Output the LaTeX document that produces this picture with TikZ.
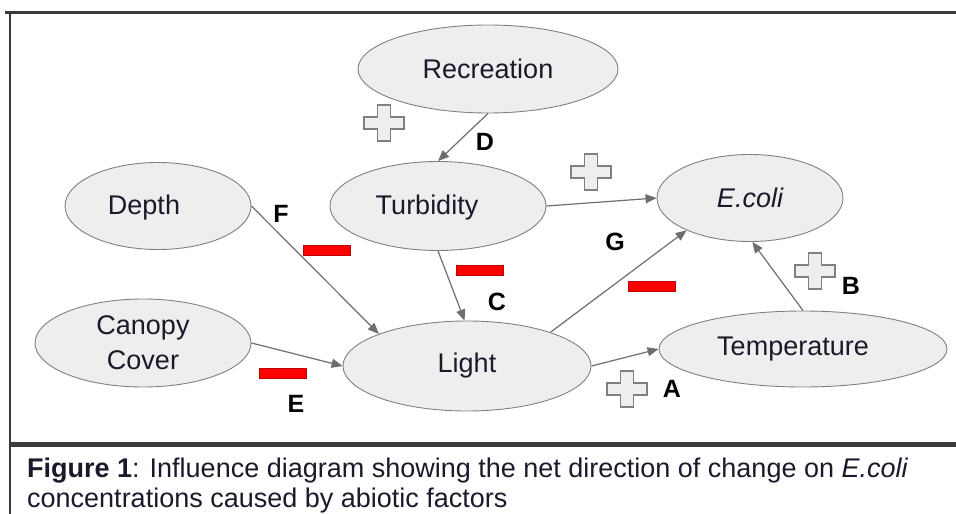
\documentclass[tikz,border=0pt]{standalone}
\usepackage{fontspec}
\setmainfont{Liberation Sans}
\usetikzlibrary{shapes.geometric,arrows.meta}
\definecolor{nodefill}{HTML}{EEEEEE}
\definecolor{nodeline}{HTML}{808080}
\definecolor{arrowc}{HTML}{6E6E6E}
\definecolor{framec}{HTML}{3A3A3A}
\definecolor{textc}{HTML}{1A1A2A}
\tikzset{
  ell/.style={ellipse, draw=nodeline, fill=nodefill, line width=0.9pt, inner sep=0pt,
    font=\fontsize{27}{35}\selectfont, text=textc, align=center},
  elltext/.style={font=\fontsize{27}{35}\selectfont, text=textc},
  conn/.style={draw=arrowc, line width=1.2pt, -{Triangle[length=11pt,width=9pt]}},
  lbl/.style={font=\fontsize{25}{25}\selectfont\bfseries, text=black, inner sep=0pt},
  minusbar/.style={rectangle, fill=red, draw=red!75!black, line width=0.5pt,
    minimum width=47pt, minimum height=10pt, inner sep=0pt},
  plussign/.pic={\draw[nodeline, fill=nodefill, line width=1.2pt]
    (-6.5,-18)--(6.5,-18)--(6.5,-6)--(20,-6)--(20,6)--(6.5,6)--(6.5,18)--(-6.5,18)
    --(-6.5,6)--(-20,6)--(-20,-6)--(-6.5,-6)--cycle;},
  captxt/.style={font=\fontsize{27}{30}\selectfont, text=textc, inner sep=0pt, anchor=base west}
}
\begin{document}
\begin{tikzpicture}[x=1pt,y=-1pt]
\useasboundingbox (0,0) rectangle (956,514);
% frame
\draw[framec, line width=3pt] (5,12) -- (956,12);
\draw[framec, line width=2.5pt] (10,12) -- (10,514);
\draw[framec, line width=5pt] (10,444) -- (956,444);

% nodes
\node[ell, minimum width=260pt, minimum height=88pt] (rec) at (488,69) {Recreation};
\node[ell, minimum width=186pt, minimum height=87pt, label={[xshift=-14pt, yshift=-2pt, elltext]center:Depth}] (dep) at (158,206) {};
\node[ell, minimum width=216pt, minimum height=89pt, label={[xshift=-11pt, yshift=-2pt, elltext]center:Turbidity}] (tur) at (438,206) {};
\node[ell, minimum width=186pt, minimum height=87pt] (eco) at (750,198) {\itshape E.coli};
\node[ell, minimum width=216pt, minimum height=88pt] (can) at (143,343) {Canopy\\Cover};
\node[ell, minimum width=248pt, minimum height=90pt] (lig) at (467,366) {Light};
\node[ell, minimum width=288pt, minimum height=76pt, label={[xshift=-10pt, elltext]center:Temperature}] (tem) at (803,349) {};

% connectors
\draw[conn] (rec.south) -- (tur.north);
\draw[conn] (tur.east) -- (eco.west);
\draw[conn] (tur.south) -- (lig.93);
\draw[conn] (dep.east) -- (lig.160);
\draw[conn] (can.east) -- (lig.west);
\draw[conn] (lig.22) -- (eco.207);
\draw[conn] (lig.east) -- (tem.west);
\draw[conn] (tem.north) -- (eco.-87);

% signs
\pic at (384,123) {plussign};
\pic at (591,172) {plussign};
\pic at (627,389) {plussign};
\pic at (815,271) {plussign};
\node[minusbar] (mf) at (327,250) {};
\node[minusbar] (mc) at (480,270) {};
\node[minusbar] (mg) at (652,286) {};
\node[minusbar] (me) at (283,373) {};

% labels
\node[lbl] (ld) at (485,142) {D};
\node[lbl] (lg) at (615,242) {G};
\node[lbl] (lc) at (497,302) {C};
\node[lbl] (lf) at (281,214) {F};
\node[lbl] (le) at (296,404) {E};
\node[lbl] (la) at (672,389) {A};
\node[lbl] (lb) at (851,286) {B};

% caption
\node[captxt] (cap1) at (27,477) {\textbf{Figure 1}: Influence diagram showing the net direction of change on \textit{E.coli}};
\node[captxt] (cap2) at (27,507) {concentrations caused by abiotic factors};
\end{tikzpicture}
\end{document}
